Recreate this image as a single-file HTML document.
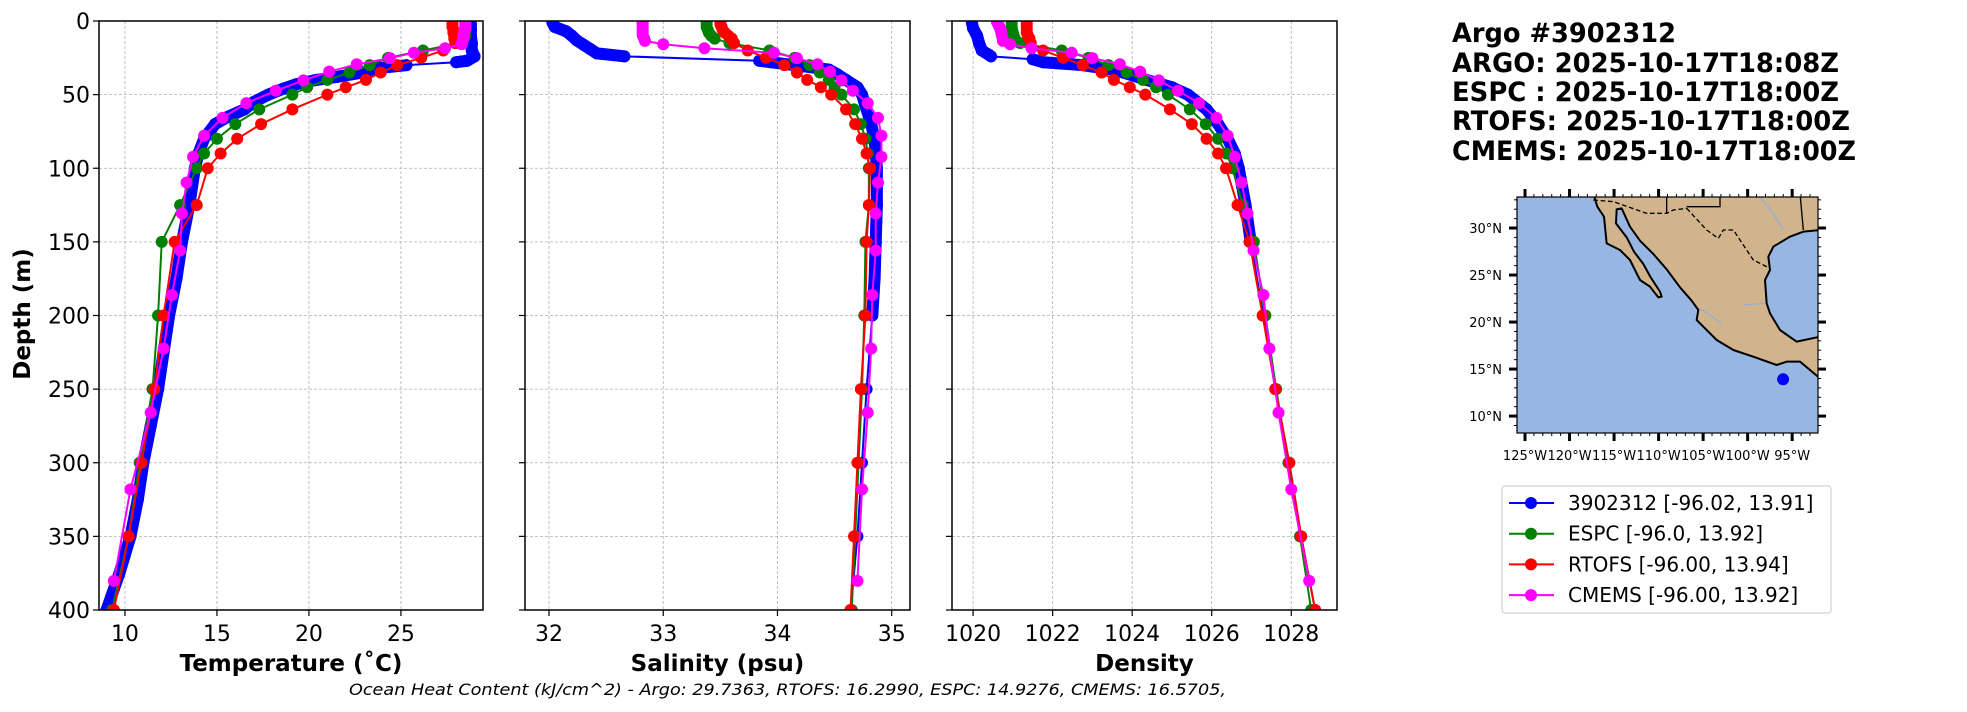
<!DOCTYPE html>
<html><head><meta charset="utf-8"><style>
html,body{margin:0;padding:0;background:#fff;}
svg{display:block;font-family:"DejaVu Sans","Liberation Sans",sans-serif;}
</style></head><body>
<svg id="fig" width="1967" height="712" viewBox="0 0 1967 712" xmlns="http://www.w3.org/2000/svg">
<rect width="1967" height="712" fill="#fff"/>
<g id="plots"></g>
<g id="title" font-weight="bold" font-size="27" fill="#000">
<text x="1452" y="42" textLength="224" lengthAdjust="spacingAndGlyphs">Argo #3902312</text>
<text x="1452" y="72" textLength="387" lengthAdjust="spacingAndGlyphs">ARGO: 2025-10-17T18:08Z</text>
<text x="1452" y="101" textLength="387" lengthAdjust="spacingAndGlyphs">ESPC : 2025-10-17T18:00Z</text>
<text x="1452" y="130" textLength="398" lengthAdjust="spacingAndGlyphs">RTOFS: 2025-10-17T18:00Z</text>
<text x="1452" y="160" textLength="404" lengthAdjust="spacingAndGlyphs">CMEMS: 2025-10-17T18:00Z</text>
</g>
<g id="map"></g>
<g id="legend"></g>
<text x="0" y="0" transform="translate(30,314) rotate(-90)" text-anchor="middle" font-weight="bold" font-size="23">Depth (m)</text>
<text x="349" y="695" font-style="italic" font-size="16" textLength="877" lengthAdjust="spacingAndGlyphs">Ocean Heat Content (kJ/cm^2) - Argo: 29.7363,  RTOFS: 16.2990,  ESPC: 14.9276,  CMEMS: 16.5705,</text>
</svg>
<script>
// ---------- data ----------
const seriesNames = ["3902312 [-96.02, 13.91]","ESPC [-96.0, 13.92]","RTOFS [-96.00, 13.94]","CMEMS [-96.00, 13.92]"];
const seriesColors = ["#0000ff","#008000","#ff0000","#ff00ff"];
const depthTicks = [0,50,100,150,200,250,300,350,400];
const tempTicks = [10,15,20,25];
const salTicks = [32,33,34,35];
const densTicks = [1020,1022,1024,1026,1028];

const argoTempDepth = [2,6,10,15,20,24,27,28,30,32,35,38,40,43,46,50,55,60,65,70,75,80,90,100,125,150,175,200,225,250,275,300,325,350,375,400];
const argoTemp = [28.8,28.8,28.8,28.85,28.85,29.0,28.6,28.0,25.3,23.8,22.9,21.5,20.4,19.3,18.6,17.8,17.0,16.5,15.6,14.9,14.6,14.3,14.0,13.8,13.5,13.1,12.8,12.4,12.1,11.8,11.4,11.0,10.7,10.3,9.7,9.0];
const argoSalDepth = [1,4,7,10,13,16,19,22,24,27,28,30,33,36,40,45,50,60,70,80,90,100,125,150,175,200,250,300,350,400];
const argoSal = [32.03,32.05,32.15,32.2,32.24,32.3,32.36,32.42,32.66,33.84,33.94,34.15,34.45,34.52,34.6,34.7,34.74,34.78,34.82,34.85,34.86,34.87,34.87,34.86,34.85,34.83,34.78,34.74,34.7,34.64];
const argoDensDepth = [1,5,10,15,20,23,24,26,28,30,33,36,40,45,50,60,70,80,90,100,125,150,200,250,300,350,400];
const argoDens = [1019.97,1020.0,1020.1,1020.15,1020.22,1020.4,1020.45,1021.5,1021.76,1022.76,1023.5,1023.9,1024.36,1025.0,1025.4,1025.87,1026.16,1026.4,1026.58,1026.68,1026.85,1026.98,1027.3,1027.6,1027.95,1028.25,1028.6];

const modelDepth = [0,2,4,6,8,10,12,15,20,25,30,35,40,45,50,60,70,80,90,100,125,150,200,250,300,350,400];
const espcTemp = [28.5,28.5,28.5,28.5,28.5,28.5,28.4,28.2,26.2,24.3,23.3,22.2,21.0,19.9,19.1,17.3,16.0,15.0,14.3,13.9,13.0,12.0,11.8,11.5,10.8,10.2,9.3];
const espcSal = [33.38,33.38,33.38,33.39,33.40,33.42,33.45,33.58,33.93,34.15,34.28,34.37,34.45,34.5,34.56,34.67,34.73,34.77,34.79,34.8,34.8,34.77,34.76,34.74,34.71,34.68,34.65];
const espcDens = [1020.97,1020.97,1020.97,1020.98,1021.0,1021.02,1021.05,1021.18,1022.23,1022.9,1023.4,1023.86,1024.27,1024.6,1024.9,1025.45,1025.85,1026.16,1026.37,1026.52,1026.78,1027.06,1027.35,1027.62,1027.93,1028.22,1028.5];
const rtofsTemp = [27.8,27.8,27.8,27.85,27.85,27.9,27.9,27.95,27.3,26.1,24.8,23.9,23.1,22.0,21.0,19.1,17.4,16.1,15.2,14.5,13.9,12.7,12.1,11.6,10.9,10.2,9.4];
const rtofsSal = [33.5,33.5,33.51,33.52,33.54,33.57,33.6,33.62,33.74,33.9,34.06,34.17,34.26,34.38,34.47,34.6,34.68,34.74,34.78,34.81,34.8,34.78,34.77,34.73,34.7,34.67,34.64];
const rtofsDens = [1021.35,1021.35,1021.35,1021.35,1021.35,1021.38,1021.42,1021.45,1021.76,1022.26,1022.76,1023.23,1023.54,1023.94,1024.33,1024.95,1025.5,1025.87,1026.16,1026.36,1026.65,1026.95,1027.28,1027.6,1027.95,1028.25,1028.6];

const cmemsDepth = [0.5,1.5,2.6,3.8,5.1,6.4,7.9,9.6,11.4,13.5,15.8,18.5,21.6,25.2,29.4,34.4,40.3,47.4,55.8,65.8,77.9,92.3,109.7,130.7,155.9,186.1,222.5,266.0,318.1,380.2];
const cmemsTemp = [28.5,28.5,28.5,28.5,28.5,28.45,28.45,28.4,28.4,28.35,28.3,27.4,25.7,24.4,22.6,21.1,19.7,18.2,16.6,15.3,14.3,13.7,13.35,13.1,13.0,12.55,12.1,11.4,10.3,9.4];
const cmemsSal = [32.82,32.82,32.82,32.82,32.82,32.82,32.82,32.82,32.83,32.84,33.0,33.36,33.97,34.17,34.35,34.46,34.56,34.66,34.79,34.88,34.91,34.91,34.88,34.86,34.86,34.83,34.82,34.79,34.74,34.7];
const cmemsDens = [1020.6,1020.62,1020.64,1020.66,1020.68,1020.7,1020.71,1020.72,1020.74,1020.75,1020.93,1021.47,1022.48,1023.0,1023.69,1024.2,1024.67,1025.15,1025.68,1026.12,1026.4,1026.58,1026.75,1026.9,1027.05,1027.3,1027.45,1027.68,1028.0,1028.45];

const argoLon = -96.02, argoLat = 13.91;
const mapLonTicks = [-125,-120,-115,-110,-105,-100,-95];
const mapLatTicks = [10,15,20,25,30];

// ---------- helpers ----------
const NS = "http://www.w3.org/2000/svg";
function mk(tag, attrs, parent){ const e=document.createElementNS(NS,tag); for(const k in attrs) e.setAttribute(k,attrs[k]); if(parent) parent.appendChild(e); return e; }
const Y0=21, Y1=610, DMAX=400;
function yD(d){ return Y0 + d*(Y1-Y0)/DMAX; }

const panels = [
 {key:"temperature", x0:99, x1:483, vmin:8.59, vmax:29.46, ticks:tempTicks, label:"Temperature (˚C)", labelled:true,
  series:[[argoTempDepth,argoTemp],[modelDepth,espcTemp],[modelDepth,rtofsTemp],[cmemsDepth,cmemsTemp]]},
 {key:"salinity", x0:525, x1:910, vmin:31.79, vmax:35.16, ticks:salTicks, label:"Salinity (psu)", labelled:false,
  series:[[argoSalDepth,argoSal],[modelDepth,espcSal],[modelDepth,rtofsSal],[cmemsDepth,cmemsSal]]},
 {key:"density", x0:952, x1:1337, vmin:1019.47, vmax:1029.15, ticks:densTicks, label:"Density", labelled:false,
  series:[[argoDensDepth,argoDens],[modelDepth,espcDens],[modelDepth,rtofsDens],[cmemsDepth,cmemsDens]]}
];

const plots=document.getElementById("plots");
panels.forEach(p=>{
  const xV = v => p.x0 + (v-p.vmin)*(p.x1-p.x0)/(p.vmax-p.vmin);
  const g = mk("g",{},plots);
  
  
  const clipId="clip-"+p.key;
  const cp=mk("clipPath",{id:clipId},g); mk("rect",{x:p.x0,y:Y0,width:p.x1-p.x0,height:Y1-Y0},cp);
  p.ticks.forEach(t=>{ const x=xV(t);
    const l=mk("line",{x1:x,x2:x,y1:Y0,y2:Y1,stroke:"#b0b0b0","stroke-width":0.8,"stroke-dasharray":"3,2"},g);
    
    
    mk("line",{x1:x,x2:x,y1:Y1,y2:Y1+6,stroke:"#000","stroke-width":1.2},g);
    const tx=mk("text",{x:x,y:641,"text-anchor":"middle","font-size":22},g); tx.textContent=t;
    
    
  });
  depthTicks.forEach(d=>{ const y=yD(d);
    const l=mk("line",{x1:p.x0,x2:p.x1,y1:y,y2:y,stroke:"#b0b0b0","stroke-width":0.8,"stroke-dasharray":"3,2"},g);
    
    
    mk("line",{x1:p.x0-6,x2:p.x0,y1:y,y2:y,stroke:"#000","stroke-width":1.2},g);
    if(p.labelled){ const tx=mk("text",{x:p.x0-9,y:y+8,"text-anchor":"end","font-size":22},g); tx.textContent=d;
      
       }
  });
  const sg=mk("g",{"clip-path":"url(#"+clipId+")"},g);
  p.series.forEach((s,i)=>{
    const [ds,vs]=s; const col=seriesColors[i];
    const pts=ds.map((d,k)=>[xV(vs[k]),yD(d)]);
    const ser=mk("g",{},sg);
    
    
    mk("polyline",{points:pts.map(q=>q.join(",")).join(" "),fill:"none",stroke:col,"stroke-width":2},ser);
    if(i===0){
      for(let k=1;k<pts.length;k++){ const dx=pts[k][0]-pts[k-1][0], dy=pts[k][1]-pts[k-1][1];
        if(Math.hypot(dx,dy)<40) mk("line",{x1:pts[k-1][0],y1:pts[k-1][1],x2:pts[k][0],y2:pts[k][1],stroke:col,"stroke-width":12,"stroke-linecap":"round"},ser); }
    }
    pts.forEach(q=>{ const c=mk("circle",{cx:q[0],cy:q[1],r:6,fill:col},ser);
      
       });
  });
  const fr=mk("rect",{x:p.x0,y:Y0,width:p.x1-p.x0,height:Y1-Y0,fill:"none",stroke:"#000","stroke-width":1.5},g);
  
  
  const lab=mk("text",{x:(p.x0+p.x1)/2,y:671,"text-anchor":"middle","font-size":23,"font-weight":"bold"},g);
  lab.textContent=p.label;
  
  
});

// ---------- map ----------
const map=document.getElementById("map");
const MX0=1517,MX1=1818,MY0=197,MY1=433, LON0=-125.9,LON1=-92.1,LAT0=8.2,LAT1=33.3;
const mx=l=>MX0+(l-LON0)*(MX1-MX0)/(LON1-LON0);
const my=l=>MY1-(l-LAT0)*(MY1-MY0)/(LAT1-LAT0);
const mcp=mk("clipPath",{id:"mapclip"},map); mk("rect",{x:MX0,y:MY0,width:MX1-MX0,height:MY1-MY0},mcp);
const ocean=mk("rect",{x:MX0,y:MY0,width:MX1-MX0,height:MY1-MY0,fill:"#97b6e1"},map);


const mg=mk("g",{"clip-path":"url(#mapclip)"},map);
const lg=mk("g",{transform:"translate(1440,180) scale(0.33333)"},mg);
const land=mk("polygon",{points:"460,40 1140,40 1140,150 1090,155 1050,170 1000,200 985,230 990,270 975,300 980,370 990,400 1020,450 1070,485 1140,470 1140,595 1080,545 1040,545 1010,555 940,530 880,510 830,480 790,440 770,420 775,390 755,362 720,322 680,268 640,222 600,182 570,140 545,85 530,88 528,130 560,172 582,215 610,252 632,292 660,335 665,350 655,352 630,320 600,300 570,240 540,210 500,190 492,110 472,80",fill:"#d2b48c",stroke:"#000","stroke-width":6,"stroke-linejoin":"round"},lg);


mk("polyline",{points:"460,60 520,65 620,100 680,100 700,90 740,85",fill:"none",stroke:"#000","stroke-width":4,"stroke-dasharray":"14,8"},lg);
mk("polyline",{points:"740,85 800,150 835,175 850,150 880,150 940,240 990,265",fill:"none",stroke:"#000","stroke-width":4,"stroke-dasharray":"14,8"},lg);
mk("polyline",{points:"680,40 680,100",fill:"none",stroke:"#000","stroke-width":4},lg);
mk("polyline",{points:"740,80 840,80 840,40",fill:"none",stroke:"#000","stroke-width":4},lg);
mk("polyline",{points:"1080,40 1090,150",fill:"none",stroke:"#000","stroke-width":4},lg);
mk("polyline",{points:"780,385 830,420 845,430",fill:"none",stroke:"#8fb0d8","stroke-width":4},lg);
mk("polyline",{points:"910,375 975,370",fill:"none",stroke:"#8fb0d8","stroke-width":4},lg);
mk("polyline",{points:"960,50 1000,100 1030,150",fill:"none",stroke:"#8fb0d8","stroke-width":4},lg);
const dot=mk("circle",{cx:mx(argoLon),cy:my(argoLat),r:6,fill:"#0000ff"},map);


mk("rect",{x:MX0,y:MY0,width:MX1-MX0,height:MY1-MY0,fill:"none",stroke:"#000","stroke-width":1.2},map);
for(let l=-126;l<=-92;l++){ const x=mx(l); if(x<MX0||x>MX1) continue;
  mk("line",{x1:x,x2:x,y1:MY1,y2:MY1+3,stroke:"#000","stroke-width":1},map);
  mk("line",{x1:x,x2:x,y1:MY0,y2:MY0-3,stroke:"#000","stroke-width":1},map); }
for(let l=9;l<=33;l++){ const y=my(l); if(y<MY0||y>MY1) continue;
  mk("line",{x1:MX0,x2:MX0-3,y1:y,y2:y,stroke:"#000","stroke-width":1},map);
  mk("line",{x1:MX1,x2:MX1+3,y1:y,y2:y,stroke:"#000","stroke-width":1},map); }
mapLonTicks.forEach(l=>{ const x=mx(l);
  mk("line",{x1:x,x2:x,y1:MY1,y2:MY1+8,stroke:"#000","stroke-width":3},map);
  mk("line",{x1:x,x2:x,y1:MY0,y2:MY0-8,stroke:"#000","stroke-width":3},map);
  const t=mk("text",{x:x,y:460,"text-anchor":"middle","font-size":13},map); t.textContent=Math.abs(l)+"°W";
  
   });
mapLatTicks.forEach(l=>{ const y=my(l);
  mk("line",{x1:MX0,x2:MX0-8,y1:y,y2:y,stroke:"#000","stroke-width":3},map);
  mk("line",{x1:MX1,x2:MX1+8,y1:y,y2:y,stroke:"#000","stroke-width":3},map);
  const t=mk("text",{x:1502,y:y+5,"text-anchor":"end","font-size":13},map); t.textContent=l+"°N";
  
   });

// ---------- legend ----------
const leg=document.getElementById("legend");
mk("rect",{x:1502,y:486,width:329,height:127,rx:3,fill:"#fff",stroke:"#d0d0d0","stroke-width":1.2},leg);
seriesNames.forEach((n,i)=>{ const y=503+i*30.7;
  const e=mk("g",{},leg);
  
  
  mk("line",{x1:1509,x2:1554,y1:y,y2:y,stroke:seriesColors[i],"stroke-width":2},e);
  mk("circle",{cx:1531,cy:y,r:6,fill:seriesColors[i]},e);
  const t=mk("text",{x:1568,y:y+7,"font-size":20},e); t.textContent=n; });
</script>
</body></html>
